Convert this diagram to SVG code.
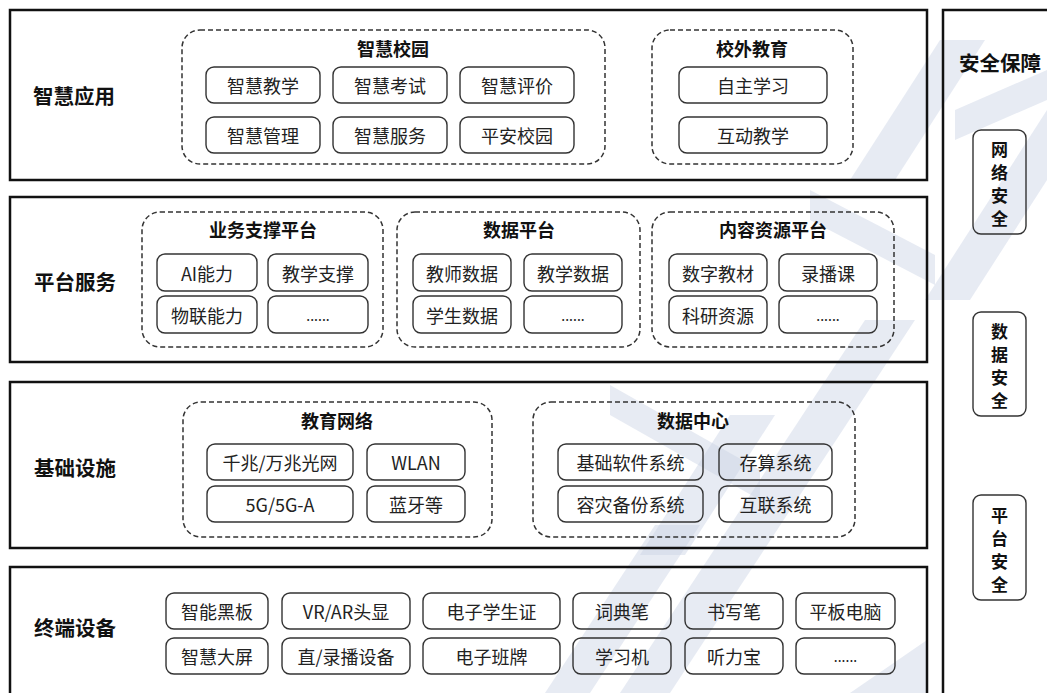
<svg xmlns="http://www.w3.org/2000/svg" width="1047" height="693" viewBox="0 0 1047 693">
<style>
  .layer{fill:none;stroke:#111;stroke-width:2.5}
  .grp{fill:none;stroke:#333;stroke-width:1.5;stroke-dasharray:5 3}
  .item{fill:none;stroke:#333;stroke-width:1.4}
  text{font-family:"Noto Sans CJK SC","Microsoft YaHei",sans-serif;fill:#222;dominant-baseline:central;text-anchor:middle}
  .lbl{font-size:20.5px;font-weight:bold;fill:#111}
  .ttl{font-size:18px;font-weight:bold;fill:#111}
  .it{font-size:18px}
  .dots{font-size:14px}
  .sec{font-size:17px;font-weight:bold;fill:#111}
  .wm{fill:#c9d2e5;opacity:0.45}
</style>
<rect width="1047" height="693" fill="#fff"/>
<g id="watermark">
  <polygon class="wm" points="545,693 590,693 700,525 655,525"/>
  <polygon class="wm" points="620,693 670,693 915,320 865,320"/>
  <polygon class="wm" points="640,555 685,555 775,415 730,415"/>
  <polygon class="wm" points="850,180 895,180 985,40 940,40"/>
  <polygon class="wm" points="925,300 970,300 1047,180 1047,110"/>
  <polygon class="wm" points="610,385 760,470 760,500 610,415"/>
  <polygon class="wm" points="810,190 935,255 935,285 810,220"/>
  <polygon class="wm" points="955,110 1047,70 1047,100 955,140"/>
  <polygon class="wm" points="850,693 927,693 927,640"/>
</g>
<g id="connectors"></g>
<g id="layer-app">
  <rect class="layer" x="10" y="10" width="917" height="170"/>
  <text class="lbl" x="74" y="95">智慧应用</text>
</g>
<g id="group-campus">
  <rect class="grp" x="182" y="30" width="423" height="134" rx="18"/>
  <text class="ttl" x="393" y="48">智慧校园</text>
  <rect class="item" x="206" y="67" width="114" height="36" rx="8"/><text class="it" x="263" y="85">智慧教学</text>
  <rect class="item" x="333" y="67" width="114" height="36" rx="8"/><text class="it" x="390" y="85">智慧考试</text>
  <rect class="item" x="460" y="67" width="114" height="36" rx="8"/><text class="it" x="517" y="85">智慧评价</text>
  <rect class="item" x="206" y="117" width="114" height="36" rx="8"/><text class="it" x="263" y="135">智慧管理</text>
  <rect class="item" x="333" y="117" width="114" height="36" rx="8"/><text class="it" x="390" y="135">智慧服务</text>
  <rect class="item" x="460" y="117" width="114" height="36" rx="8"/><text class="it" x="517" y="135">平安校园</text>
</g>
<g id="group-outside">
  <rect class="grp" x="652" y="30" width="201" height="134" rx="18"/>
  <text class="ttl" x="752" y="48">校外教育</text>
  <rect class="item" x="679" y="67" width="148" height="36" rx="8"/><text class="it" x="753" y="85">自主学习</text>
  <rect class="item" x="679" y="117" width="148" height="36" rx="8"/><text class="it" x="753" y="135">互动教学</text>
</g>
<g id="layer-platform">
  <rect class="layer" x="10" y="197" width="917" height="165"/>
  <text class="lbl" x="75" y="281">平台服务</text>
</g>
<g id="group-biz">
  <rect class="grp" x="142" y="212" width="241" height="135" rx="18"/>
  <text class="ttl" x="263" y="229">业务支撑平台</text>
  <rect class="item" x="157" y="254" width="100" height="37" rx="8"/><text class="it" x="207" y="272.5">AI能力</text>
  <rect class="item" x="268" y="254" width="100" height="37" rx="8"/><text class="it" x="318" y="272.5">教学支撑</text>
  <rect class="item" x="157" y="296" width="100" height="37" rx="8"/><text class="it" x="207" y="314.5">物联能力</text>
  <rect class="item" x="268" y="296" width="100" height="37" rx="8"/><text class="dots" x="318" y="314.5">......</text>
</g>
<g id="group-data">
  <rect class="grp" x="397" y="212" width="243" height="135" rx="18"/>
  <text class="ttl" x="519" y="229">数据平台</text>
  <rect class="item" x="413" y="254" width="98" height="37" rx="8"/><text class="it" x="462" y="272.5">教师数据</text>
  <rect class="item" x="524" y="254" width="98" height="37" rx="8"/><text class="it" x="573" y="272.5">教学数据</text>
  <rect class="item" x="413" y="296" width="98" height="37" rx="8"/><text class="it" x="462" y="314.5">学生数据</text>
  <rect class="item" x="524" y="296" width="98" height="37" rx="8"/><text class="dots" x="573" y="314.5">......</text>
</g>
<g id="group-content">
  <rect class="grp" x="652" y="212" width="242" height="135" rx="18"/>
  <text class="ttl" x="773" y="229">内容资源平台</text>
  <rect class="item" x="669" y="254" width="98" height="37" rx="8"/><text class="it" x="718" y="272.5">数字教材</text>
  <rect class="item" x="779" y="254" width="98" height="37" rx="8"/><text class="it" x="828" y="272.5">录播课</text>
  <rect class="item" x="669" y="296" width="98" height="37" rx="8"/><text class="it" x="718" y="314.5">科研资源</text>
  <rect class="item" x="779" y="296" width="98" height="37" rx="8"/><text class="dots" x="828" y="314.5">......</text>
</g>
<g id="layer-infra">
  <rect class="layer" x="10" y="382" width="917" height="166"/>
  <text class="lbl" x="75" y="467">基础设施</text>
</g>
<g id="group-network">
  <rect class="grp" x="183" y="402" width="309" height="135" rx="18"/>
  <text class="ttl" x="337" y="420">教育网络</text>
  <rect class="item" x="207" y="444" width="146" height="36" rx="8"/><text class="it" x="280" y="462">千兆/万兆光网</text>
  <rect class="item" x="367" y="444" width="98" height="36" rx="8"/><text class="it" x="416" y="462">WLAN</text>
  <rect class="item" x="207" y="486" width="146" height="36" rx="8"/><text class="it" x="280" y="504">5G/5G-A</text>
  <rect class="item" x="367" y="486" width="98" height="36" rx="8"/><text class="it" x="416" y="504">蓝牙等</text>
</g>
<g id="group-dc">
  <rect class="grp" x="533" y="402" width="322" height="135" rx="18"/>
  <text class="ttl" x="693" y="420">数据中心</text>
  <rect class="item" x="558" y="444" width="145" height="36" rx="8"/><text class="it" x="630.5" y="462">基础软件系统</text>
  <rect class="item" x="719" y="444" width="113" height="36" rx="8"/><text class="it" x="775.5" y="462">存算系统</text>
  <rect class="item" x="558" y="486" width="145" height="36" rx="8"/><text class="it" x="630.5" y="504">容灾备份系统</text>
  <rect class="item" x="719" y="486" width="113" height="36" rx="8"/><text class="it" x="775.5" y="504">互联系统</text>
</g>
<g id="layer-terminal">
  <rect class="layer" x="10" y="567" width="917" height="200"/>
  <text class="lbl" x="75" y="627">终端设备</text>
  <rect class="item" x="166" y="593" width="102" height="36" rx="8"/><text class="it" x="217" y="611">智能黑板</text>
  <rect class="item" x="282" y="593" width="128" height="36" rx="8"/><text class="it" x="346" y="611">VR/AR头显</text>
  <rect class="item" x="423" y="593" width="137" height="36" rx="8"/><text class="it" x="491.5" y="611">电子学生证</text>
  <rect class="item" x="573" y="593" width="98" height="36" rx="8"/><text class="it" x="622" y="611">词典笔</text>
  <rect class="item" x="685" y="593" width="98" height="36" rx="8"/><text class="it" x="734" y="611">书写笔</text>
  <rect class="item" x="796" y="593" width="99" height="36" rx="8"/><text class="it" x="845.5" y="611">平板电脑</text>
  <rect class="item" x="166" y="638" width="102" height="36" rx="8"/><text class="it" x="217" y="656">智慧大屏</text>
  <rect class="item" x="282" y="638" width="128" height="36" rx="8"/><text class="it" x="346" y="656">直/录播设备</text>
  <rect class="item" x="423" y="638" width="137" height="36" rx="8"/><text class="it" x="491.5" y="656">电子班牌</text>
  <rect class="item" x="573" y="638" width="98" height="36" rx="8"/><text class="it" x="622" y="656">学习机</text>
  <rect class="item" x="685" y="638" width="98" height="36" rx="8"/><text class="it" x="734" y="656">听力宝</text>
  <rect class="item" x="796" y="638" width="99" height="36" rx="8"/><text class="dots" x="845.5" y="656">......</text>
</g>
<g id="security">
  <rect class="layer" x="943" y="10" width="200" height="800"/>
  <text class="lbl" x="1000" y="62">安全保障</text>
</g>
<g id="sec-network">
  <rect class="item" x="973" y="130" width="53" height="104" rx="8"/>
  <text class="sec" x="999.5" y="148.5">网</text><text class="sec" x="999.5" y="171.5">络</text><text class="sec" x="999.5" y="194.5">安</text><text class="sec" x="999.5" y="217.5">全</text>
</g>
<g id="sec-data">
  <rect class="item" x="973" y="312" width="53" height="104" rx="8"/>
  <text class="sec" x="999.5" y="330.5">数</text><text class="sec" x="999.5" y="353.5">据</text><text class="sec" x="999.5" y="376.5">安</text><text class="sec" x="999.5" y="399.5">全</text>
</g>
<g id="sec-platform">
  <rect class="item" x="973" y="495" width="53" height="105" rx="8"/>
  <text class="sec" x="999.5" y="514">平</text><text class="sec" x="999.5" y="537">台</text><text class="sec" x="999.5" y="560">安</text><text class="sec" x="999.5" y="583">全</text>
</g>
</svg>
